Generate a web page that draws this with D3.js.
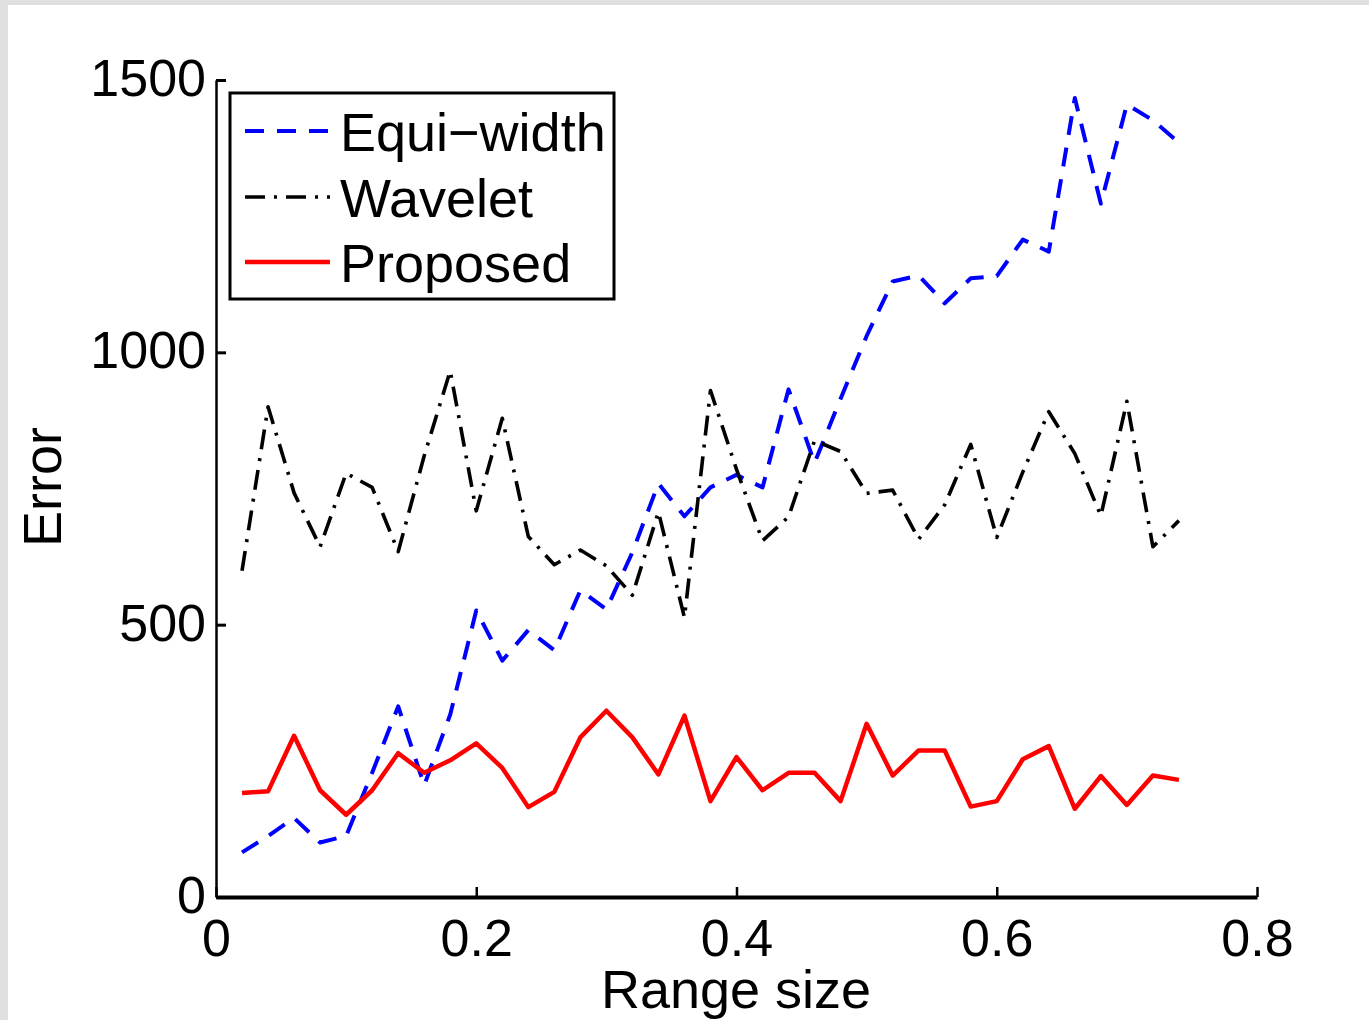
<!DOCTYPE html>
<html>
<head>
<meta charset="utf-8">
<script src="https://cdn.jsdelivr.net/npm/d3@7"></script>
<style>
  html, body { margin: 0; padding: 0; background: #e0e0e0; }
  svg { display: block; }
  text { font-family: "Liberation Sans", Arial, Helvetica, sans-serif; fill: #000; }
</style>
</head>
<body>
<svg id="chart" width="1369" height="1020"></svg>
<script>
// Range sizes at which each method was evaluated
const rangeSizes = [0.02, 0.04, 0.06, 0.08, 0.10, 0.12, 0.14, 0.16, 0.18, 0.20,
                    0.22, 0.24, 0.26, 0.28, 0.30, 0.32, 0.34, 0.36, 0.38, 0.40,
                    0.42, 0.44, 0.46, 0.48, 0.50, 0.52, 0.54, 0.56, 0.58, 0.60,
                    0.62, 0.64, 0.66, 0.68, 0.70, 0.72, 0.74];

// Error of each method per range size
const equiWidth = [82, 112, 145, 100, 112, 228, 350, 205, 335, 526,
                   434, 490, 453, 563, 528, 633, 759, 699, 752, 775,
                   752, 932, 797, 915, 1030, 1130, 1141, 1090, 1136, 1140,
                   1207, 1185, 1467, 1273, 1455, 1426, 1385];
const wavelet = [599, 900, 742, 643, 778, 752, 634, 810, 966, 709,
                 879, 662, 610, 637, 608, 554, 707, 513, 930, 785,
                 654, 698, 838, 818, 741, 747, 657, 720, 831, 660,
                 780, 891, 814, 700, 910, 643, 691];
const proposed = [191, 194, 296, 196, 151, 196, 264, 228, 251, 282,
                  237, 165, 193, 293, 342, 293, 225, 333, 176, 257,
                  196, 228, 228, 176, 318, 223, 269, 269, 166, 176,
                  253, 277, 162, 222, 169, 223, 215];

const seriesNames = ["Equi\u2212width", "Wavelet", "Proposed"];
const xTicks = [0, 0.2, 0.4, 0.6, 0.8];
const xTickLabels = ["0", "0.2", "0.4", "0.6", "0.8"];
const yTicks = [0, 500, 1000, 1500];
const yTickLabels = ["0", "500", "1000", "1500"];

const svg = d3.select("#chart");

// page background and white figure area
svg.append("rect").attr("x", 0).attr("y", 0).attr("width", 1369).attr("height", 1020).attr("fill", "#e0e0e0");
svg.append("rect").attr("x", 8).attr("y", 5).attr("width", 1361).attr("height", 1015).attr("fill", "#ffffff");

const x = d3.scaleLinear().domain([0, 0.8]).range([216, 1257]);
const y = d3.scaleLinear().domain([0, 1500]).range([897, 80]);

const styles = [
  { data: equiWidth, color: "#0000ff", width: 4,   dash: "19,13" },
  { data: wavelet,   color: "#000000", width: 3.6, dash: "20,9,3,9" },
  { data: proposed,  color: "#ff0000", width: 4.5, dash: null }
];

const line = d3.line()
  .x((d, i) => x(rangeSizes[i]))
  .y(d => y(d));

styles.forEach(s => {
  svg.append("path")
    .datum(s.data)
    .attr("d", line)
    .attr("fill", "none")
    .attr("stroke", s.color)
    .attr("stroke-width", s.width)
    .attr("stroke-linejoin", "round")
    .attr("stroke-dasharray", s.dash);
});

// axes: inward ticks, no box
const xAxis = d3.axisBottom(x)
  .tickValues(xTicks)
  .tickFormat((d, i) => xTickLabels[i])
  .tickSizeInner(-10)
  .tickSizeOuter(0)
  .tickPadding(22);

const yAxis = d3.axisLeft(y)
  .tickValues(yTicks)
  .tickFormat((d, i) => yTickLabels[i])
  .tickSizeInner(-10)
  .tickSizeOuter(0)
  .tickPadding(10);

const gx = svg.append("g").attr("transform", "translate(0,897)").call(xAxis);
const gy = svg.append("g").attr("transform", "translate(216,0)").call(yAxis);

gx.select(".domain").attr("stroke", "#000").attr("stroke-width", 4);
gy.select(".domain").attr("stroke", "#000").attr("stroke-width", 2.5);
gx.selectAll(".tick line").attr("stroke", "#000").attr("stroke-width", 2.5);
gy.selectAll(".tick line").attr("stroke", "#000").attr("stroke-width", 3);
gx.selectAll(".tick text").attr("font-size", 52).attr("font-family", "Liberation Sans, Arial, sans-serif").attr("fill", "#000");
gy.selectAll(".tick text").attr("font-size", 52).attr("font-family", "Liberation Sans, Arial, sans-serif").attr("fill", "#000").attr("dy", "0.3em");

// axis titles
svg.append("text")
  .attr("x", 736).attr("y", 1008)
  .attr("text-anchor", "middle")
  .attr("font-size", 54)
  .text("Range size");

svg.append("text")
  .attr("transform", "translate(61,487) rotate(-90)")
  .attr("text-anchor", "middle")
  .attr("font-size", 54)
  .text("Error");

// legend
const legend = svg.append("g");
legend.append("rect")
  .attr("x", 230).attr("y", 93).attr("width", 384).attr("height", 206)
  .attr("fill", "#fff").attr("stroke", "#000").attr("stroke-width", 3);

const legendRows = [131, 197, 262];
styles.forEach((s, i) => {
  legend.append("line")
    .attr("x1", 245).attr("x2", 330)
    .attr("y1", legendRows[i]).attr("y2", legendRows[i])
    .attr("stroke", s.color)
    .attr("stroke-width", s.width)
    .attr("stroke-dasharray", s.dash);
  legend.append("text")
    .attr("x", 340).attr("y", legendRows[i] + 20)
    .attr("font-size", 54)
    .text(seriesNames[i]);
});
</script>
</body>
</html>
